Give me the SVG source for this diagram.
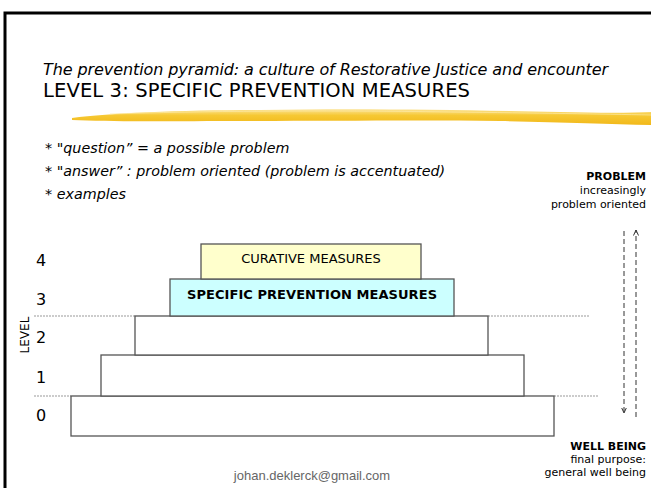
<svg xmlns="http://www.w3.org/2000/svg" width="651" height="488" viewBox="0 0 651 488">
<style>
.sans{font-family:"DejaVu Sans","Verdana",sans-serif;fill:#000}
.it{font-style:italic}
.box{stroke:#555;stroke-width:1.3}
.guide{stroke:#999;stroke-width:1;stroke-dasharray:2,1;fill:none}
.lvl{font-family:"DejaVu Sans",sans-serif;font-size:16px;fill:#000}
.side{font-family:"DejaVu Sans",sans-serif;font-size:11px;fill:#000;text-anchor:end}
.dash{stroke:#333;stroke-width:1;stroke-dasharray:5,3;fill:none}
</style>
<defs>
<linearGradient id="brush" x1="0" y1="0" x2="0" y2="1">
<stop offset="0" stop-color="#FBE08A"/>
<stop offset="0.4" stop-color="#F5C21C"/>
<stop offset="1" stop-color="#F0B000"/>
</linearGradient>
<marker id="ah" viewBox="0 0 6 6" refX="5.5" refY="3" markerWidth="6" markerHeight="6" orient="auto" markerUnits="userSpaceOnUse">
<path d="M0,0.5 L5.5,3 L0,5.5" fill="none" stroke="#333" stroke-width="1"/>
</marker>
</defs>
<rect width="651" height="488" fill="#fff"/>
<path d="M5,492 V13 H656" fill="none" stroke="#000" stroke-width="3"/>

<g id="title">
<text class="sans it" x="43" y="75" font-size="16" textLength="565">The prevention pyramid: a culture of Restorative Justice and encounter</text>
<text class="sans" x="43" y="97" font-size="19.5" textLength="427">LEVEL 3: SPECIFIC PREVENTION MEASURES</text>
<path d="M72,118 C110,113 180,110 260,110 C360,108 470,110 560,112 C600,113 630,113 651,112 L651,125 C610,124 560,122 500,121 C420,120 330,121 250,121 C170,121 110,122 72,120 Z" fill="url(#brush)" opacity="0.9"/>
<path d="M110,114 C200,111 320,110 450,112 C540,113 600,114 651,115" fill="none" stroke="#FCE9A6" stroke-width="1" opacity="0.7"/>
</g>

<g id="bullets">
<text class="sans it" x="45" y="153" font-size="14.3">* "question” = a possible problem</text>
<text class="sans it" x="45" y="176" font-size="14.3">* "answer” : problem oriented (problem is accentuated)</text>
<text class="sans it" x="45" y="199" font-size="14.3">* examples</text>
</g>

<g id="guides">
<line class="guide" x1="34" y1="316" x2="135" y2="316"/>
<line class="guide" x1="488" y1="316" x2="590" y2="316"/>
<line class="guide" x1="34" y1="396" x2="71" y2="396"/>
<line class="guide" x1="554" y1="396" x2="599" y2="396"/>
</g>

<g id="level0"><rect class="box" x="71" y="396" width="483" height="40" fill="#fff"/></g>
<g id="level1"><rect class="box" x="101" y="355" width="423" height="41" fill="#fff"/></g>
<g id="level2"><rect class="box" x="135" y="316" width="353" height="39" fill="#fff"/></g>
<g id="level3">
<rect class="box" x="170" y="279" width="284" height="37" fill="#CCFFFF"/>
<text class="sans" x="312" y="299" font-size="13" font-weight="bold" text-anchor="middle" textLength="250">SPECIFIC PREVENTION MEASURES</text>
</g>
<g id="level4">
<rect class="box" x="201" y="244" width="220" height="35" fill="#FFFFCC"/>
<text class="sans" x="311" y="263" font-size="13" text-anchor="middle">CURATIVE MEASURES</text>
</g>

<g id="levels">
<text class="lvl" x="36" y="266">4</text>
<text class="lvl" x="36" y="305">3</text>
<text class="lvl" x="36" y="343">2</text>
<text class="lvl" x="36" y="383">1</text>
<text class="lvl" x="36" y="421">0</text>
<text class="sans" font-size="12" text-anchor="middle" transform="translate(28.5,335) rotate(-90)">LEVEL</text>
</g>

<g id="connectors">
<line class="dash" x1="624" y1="231" x2="624" y2="413" marker-end="url(#ah)"/>
<line class="dash" x1="636" y1="417" x2="636" y2="230" marker-end="url(#ah)"/>
</g>

<g id="problem">
<text class="side" x="646" y="180" font-weight="bold">PROBLEM</text>
<text class="side" x="646" y="194">increasingly</text>
<text class="side" x="646" y="208">problem oriented</text>
</g>

<g id="wellbeing">
<text class="side" x="646" y="450" font-weight="bold">WELL BEING</text>
<text class="side" x="646" y="463">final purpose:</text>
<text class="side" x="646" y="476">general well being</text>
</g>

<text x="312" y="480" font-family="Liberation Sans,Arial,sans-serif" font-size="13" fill="#666" text-anchor="middle">johan.deklerck@gmail.com</text>
</svg>
